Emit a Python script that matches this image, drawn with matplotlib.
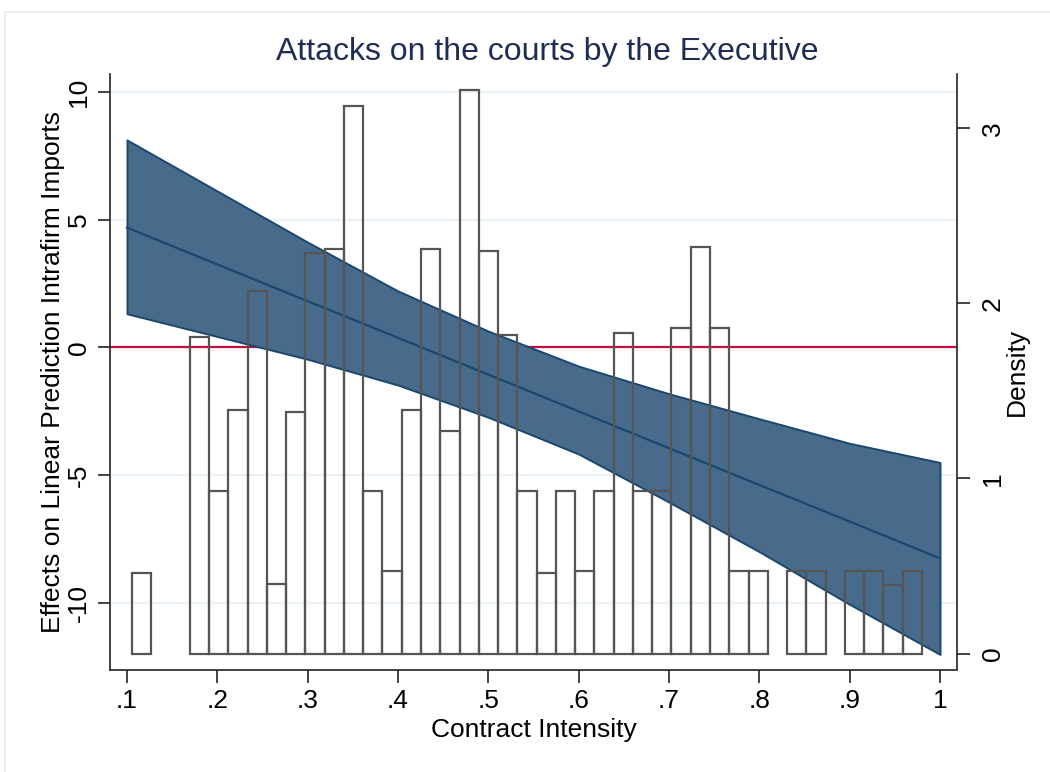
import matplotlib
matplotlib.use("Agg")
import matplotlib.pyplot as plt
from matplotlib.patches import Rectangle

plt.rcParams['font.family'] = ['Liberation Sans', 'DejaVu Sans']

# margins at contract intensity .1 ... 1
at_x = [0.1, 0.2, 0.3, 0.4, 0.5, 0.6, 0.7, 0.8, 0.9, 1.0]
fit = [4.69, 3.25, 1.81, 0.38, -1.06, -2.50, -3.94, -5.38, -6.81, -8.25]
upper = [8.12, 6.12, 4.12, 2.21, 0.64, -0.73, -1.81, -2.79, -3.75, -4.50]
lower = [1.32, 0.43, -0.46, -1.47, -2.73, -4.17, -6.05, -7.99, -10.05, -12.01]

# histogram of contract intensity (41 bins)
bin_start = 0.1055
bin_width = 0.02133
density = [0.46, 0, 0, 1.81, 0.93, 1.39, 2.07, 0.40, 1.38, 2.29,
           2.31, 3.13, 0.93, 0.47, 1.39, 2.31, 1.27, 3.22, 2.30, 1.82,
           0.93, 0.46, 0.93, 0.47, 0.93, 1.83, 0.93, 0.93, 1.86, 2.32,
           1.86, 0.47, 0.47, 0, 0.47, 0.47, 0, 0.47, 0.47, 0.39, 0.47]

xticks = [0.1, 0.2, 0.3, 0.4, 0.5, 0.6, 0.7, 0.8, 0.9, 1.0]
xticklabels = ['.1', '.2', '.3', '.4', '.5', '.6', '.7', '.8', '.9', '1']
yticks = [-10, -5, 0, 5, 10]
dticks = [0, 1, 2, 3]

navy = '#1a476f'
axcol = '#222222'

fig = plt.figure(figsize=(10.5, 7.72), dpi=100)
fig.patches.append(Rectangle((5 / 1050, -0.1), 1.2, 1 - 12 / 772 + 0.1,
                             transform=fig.transFigure, fill=False,
                             edgecolor='#e4ecee', lw=1.2))

ax = fig.add_axes([110 / 1050, 1 - 669.5 / 772, 847 / 1050, 595.5 / 772])
ax2 = ax.twinx()

ax.yaxis.grid(True, color='#eaf2f3', lw=1.6)
ax.set_axisbelow(True)
ax.axhline(0, color='#c8103e', lw=1.6, zorder=1)
ax.fill_between(at_x, lower, upper, facecolor='#486b8b', edgecolor=navy,
                lw=1.4, zorder=2)
ax.plot(at_x, fit, color=navy, lw=1.6, zorder=3)

lefts = [bin_start + i * bin_width for i in range(len(density))]
bx = [l for l, d in zip(lefts, density) if d > 0]
bh = [d for d in density if d > 0]
ax2.bar(bx, bh, width=bin_width, align='edge', fill=False,
        edgecolor='#555555', lw=1.6)

ax.set_xlim(0.0812, 1.0188)
ax.set_ylim(-12.6, 10.7)
ax2.set_ylim(-0.091, 3.31)

ax.set_xticks(xticks)
ax.set_xticklabels(xticklabels)
ax.set_yticks(yticks)
ax.set_yticklabels([str(v) for v in yticks], rotation=90, va='center')
ax2.set_yticks(dticks)
ax2.set_yticklabels([str(v) for v in dticks], rotation=90, va='center')

for a in (ax, ax2):
    a.tick_params(direction='out', length=9, width=1.2, color=axcol,
                  labelsize=19, pad=5, labelcolor='black')
    for s in a.spines.values():
        s.set_visible(False)
ax2.tick_params(axis='y', pad=8)
ax.spines['left'].set_visible(True)
ax.spines['bottom'].set_visible(True)
ax2.spines['right'].set_visible(True)
for s in (ax.spines['left'], ax.spines['bottom'], ax2.spines['right']):
    s.set_color(axcol)
    s.set_linewidth(1.2)

ax.set_xlabel('Contract Intensity', fontsize=19, labelpad=4)
ax.set_ylabel('Effects on Linear Prediction Intrafirm Imports', fontsize=19,
              labelpad=1)
ax2.set_ylabel('Density', fontsize=19, labelpad=0)

fig.text(547.5 / 1050, 1 - 52 / 772, 'Attacks on the courts by the Executive',
         ha='center', va='center', fontsize=23, color='#1f2d54')

fig.savefig('out.png', dpi=100)
